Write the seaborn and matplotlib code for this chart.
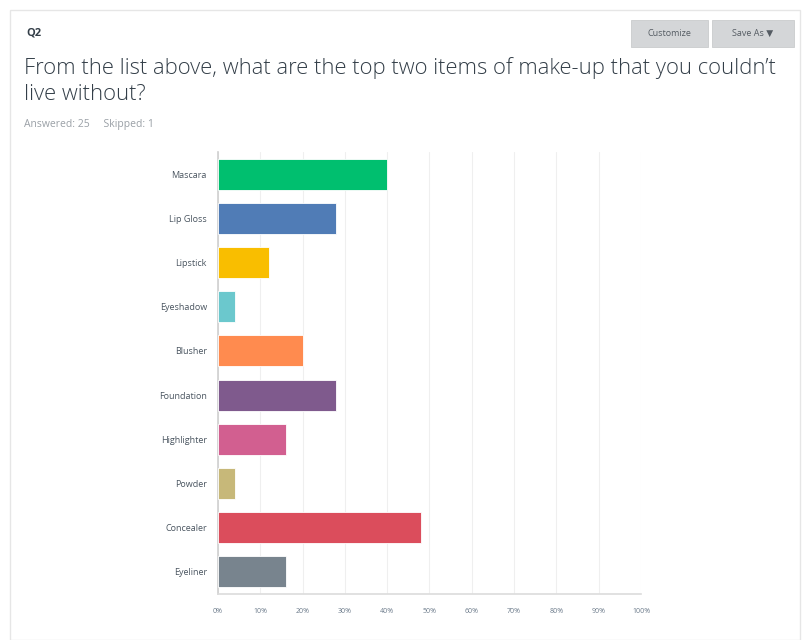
import matplotlib
matplotlib.use("Agg")
import matplotlib.pyplot as plt
import seaborn as sns
import pandas as pd
from matplotlib.patches import Rectangle

categories = ["Mascara", "Lip Gloss", "Lipstick", "Eyeshadow", "Blusher",
              "Foundation", "Highlighter", "Powder", "Concealer", "Eyeliner"]
values = [40, 28, 12, 4, 20, 28, 16, 4, 48, 16]
colors = ["#00BF6F", "#507CB6", "#F9BE00", "#6BC8CD", "#FF8B4F",
          "#7F5A8D", "#D25F90", "#C7B879", "#DB4D5C", "#78848E"]
xticks = [0, 10, 20, 30, 40, 50, 60, 70, 80, 90, 100]
xticklabels = ["0%", "10%", "20%", "30%", "40%", "50%", "60%", "70%", "80%", "90%", "100%"]

sns.set_theme(style="white")
plt.rcParams['font.family'] = ['Open Sans', 'DejaVu Sans']

W, H = 803, 640
fig = plt.figure(figsize=(W / 100, H / 100), dpi=100)
fig.patch.set_facecolor("white")

def fx(px):
    return px / W

def fy(py):
    return 1 - py / H

# card border
fig.patches.append(Rectangle((fx(10), fy(640)), fx(790), fy(10) - fy(640),
                             transform=fig.transFigure, fill=False,
                             edgecolor="#e6e6e6", lw=1.0))

fig.text(fx(26), fy(33), "Q2", fontsize=8, color="#333e48", va="center", weight="bold")
fig.text(fx(24), fy(68), "From the list above, what are the top two items of make-up that you couldn\u2019t",
         fontsize=15.8, color="#333e48", va="center", weight="light")
fig.text(fx(24), fy(95), "live without?", fontsize=15.8, color="#333e48", va="center", weight="light")
fig.text(fx(24), fy(125), "Answered: 25     Skipped: 1", fontsize=7.5, color="#9aa0a6", va="center")

# buttons
for x0, x1, label in [(631, 708, "Customize"), (712, 794, "Save As \u25BC")]:
    fig.patches.append(Rectangle((fx(x0), fy(47)), fx(x1 - x0), fy(20) - fy(47),
                                 transform=fig.transFigure, facecolor="#d4d6d8",
                                 edgecolor="#c9cbcd", lw=0.6))
    fig.text(fx((x0 + x1) / 2), fy(33), label, fontsize=6.5, color="#555c63",
             ha="center", va="center")

ax = fig.add_axes([fx(218), fy(594), fx(641 - 218), fy(152) - fy(594)])
df = pd.DataFrame({"item": categories, "pct": values})
sns.barplot(data=df, x="pct", y="item", hue="item", palette=colors, legend=False,
            orient="h", width=0.7, ax=ax, edgecolor="white", linewidth=0.6,
            saturation=1, zorder=3)

ax.set_xlim(0, 100)
ax.set_xticks(xticks)
ax.set_xticklabels(xticklabels, fontsize=5, color="#6b7a8a")
ax.tick_params(axis="y", labelsize=6.5, labelcolor="#4a5560", length=0, pad=8)
ax.tick_params(axis="x", length=0, pad=10)
ax.set_xlabel("")
ax.set_ylabel("")
ax.xaxis.grid(True, color="#efefef", lw=0.8, zorder=0)
ax.set_axisbelow(True)
for s in ["top", "right"]:
    ax.spines[s].set_visible(False)
ax.spines["left"].set_color("#cfcfcf")
ax.spines["left"].set_linewidth(1.2)
ax.spines["bottom"].set_color("#dcdcdc")
ax.spines["bottom"].set_linewidth(1.2)

fig.savefig("out.png", dpi=100)
